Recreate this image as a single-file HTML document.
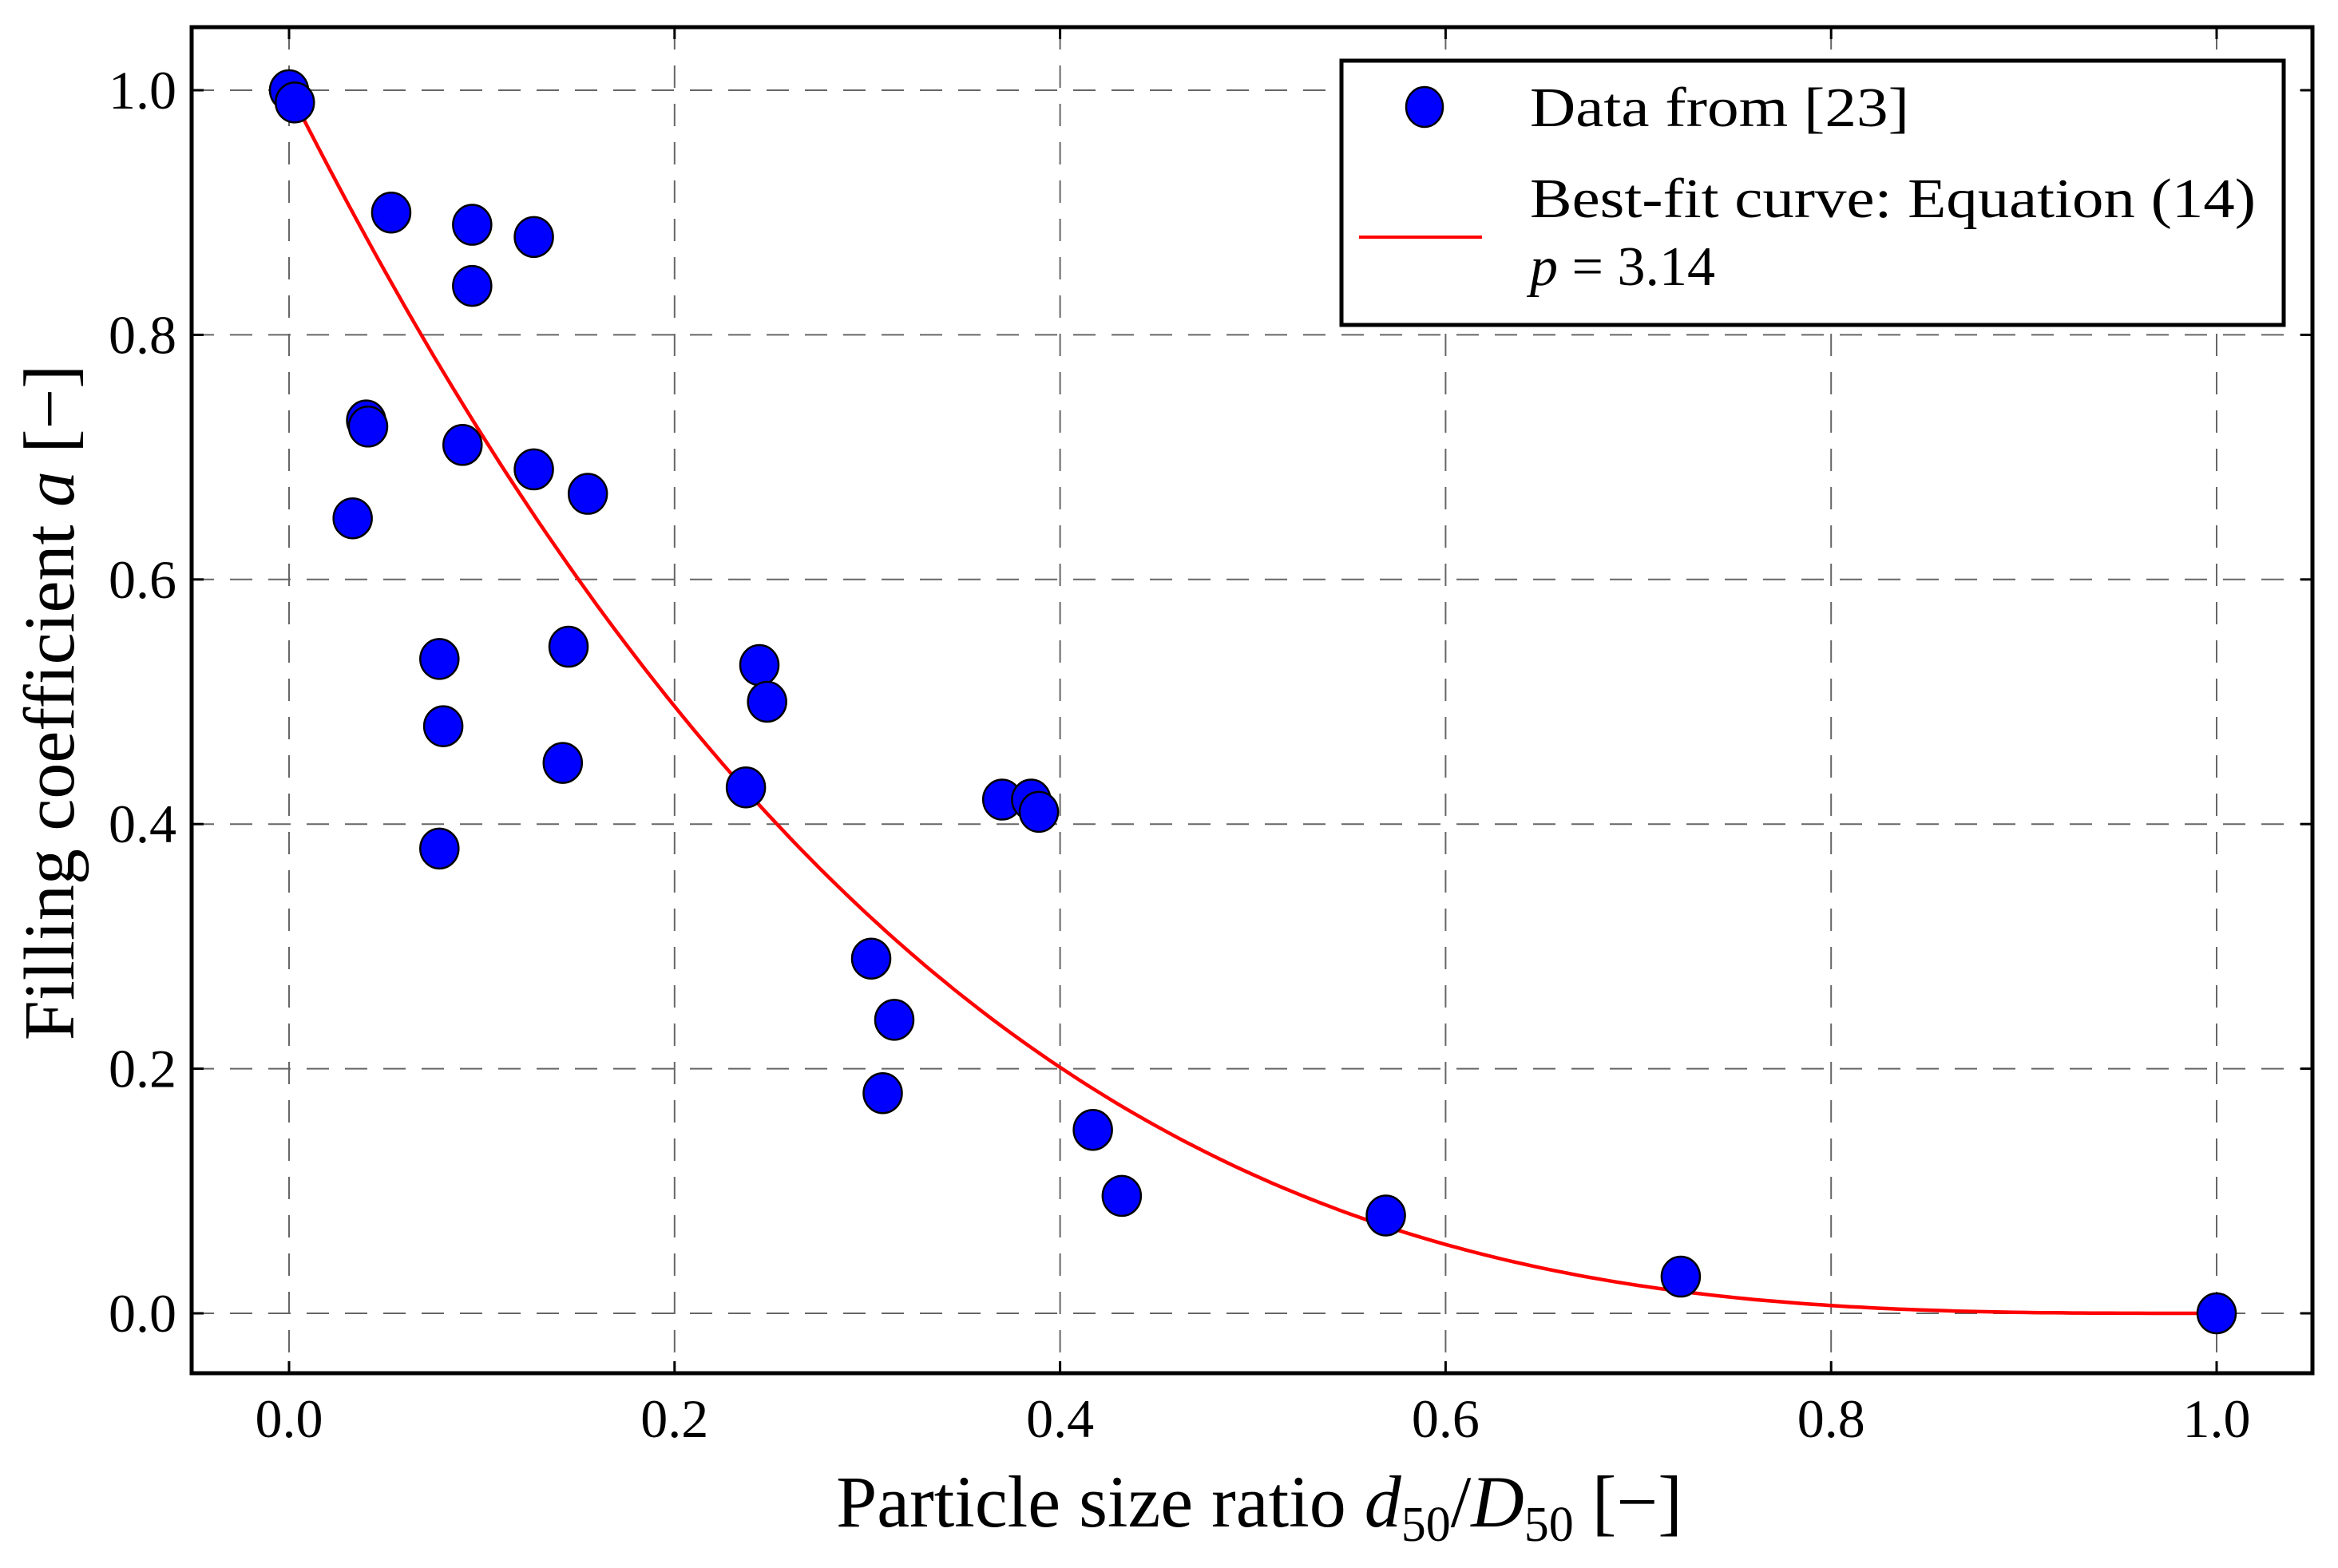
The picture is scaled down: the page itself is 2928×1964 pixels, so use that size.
<!DOCTYPE html>
<html><head><meta charset="utf-8"><style>
html,body{margin:0;padding:0;background:#fff;}
svg{display:block;font-family:"Liberation Serif",serif;}
</style></head><body>
<svg id="chart" width="2928" height="1964" viewBox="0 0 2928 1964" xmlns="http://www.w3.org/2000/svg">
<rect x="0" y="0" width="2928" height="1964" fill="#fff"/>
<g id="grid"></g>
<g id="ticks"></g>
<g id="curve"></g>
<g id="points"></g>
<rect x="240" y="34" width="2656" height="1686" fill="none" stroke="#000" stroke-width="5"/>
<text x="1577" y="1912" font-size="92" text-anchor="middle">Particle size ratio <tspan font-style="italic">d</tspan><tspan font-size="62" dy="18">50</tspan><tspan dy="-18">/</tspan><tspan font-style="italic">D</tspan><tspan font-size="62" dy="18">50</tspan><tspan dy="-18"> [−]</tspan></text>
<text transform="translate(92,880) rotate(-90)" font-size="90" text-anchor="middle">Filling coefficient <tspan font-style="italic">a</tspan> [−]</text>
<g transform="translate(-10,0)">
<rect x="1690" y="76" width="1180" height="331" fill="#fff" stroke="#000" stroke-width="5"/>
<ellipse cx="1794" cy="134" rx="23" ry="25" fill="#0000ff" stroke="#000" stroke-width="2.5"/>
<text x="1926" y="158" font-size="70" textLength="475" lengthAdjust="spacingAndGlyphs">Data from [23]</text>
<line x1="1712" y1="297" x2="1866" y2="297" stroke="#ff0000" stroke-width="4"/>
<text x="1926" y="272" font-size="70" textLength="909" lengthAdjust="spacingAndGlyphs">Best-fit curve: Equation (14)</text>
<text x="1926" y="357" font-size="70"><tspan font-style="italic">p</tspan> = 3.14</text>
</g>
</svg>
<script>
const xs = [0.0,0.003,0.053,0.095,0.127,0.095,0.040,0.041,0.090,0.127,0.155,0.033,0.078,0.145,0.080,0.244,0.248,0.142,0.237,0.078,0.370,0.385,0.389,0.302,0.314,0.308,0.417,0.432,0.569,0.722,1.0];
const ys = [1.0,0.99,0.90,0.89,0.88,0.84,0.73,0.725,0.71,0.69,0.67,0.65,0.535,0.545,0.48,0.53,0.50,0.45,0.43,0.38,0.42,0.42,0.41,0.29,0.24,0.18,0.15,0.096,0.08,0.03,0.0];
const pFit = [3.14];
const xTicks = ["0.0","0.2","0.4","0.6","0.8","1.0"];
const yTicks = ["0.0","0.2","0.4","0.6","0.8","1.0"];
const NS="http://www.w3.org/2000/svg";
const L=240,R=2896,T=34,B=1720;
function sx(v){return 362+v*(2776-362);}
function sy(v){return 1645-v*(1645-113);}
function mk(tag,attrs,parent){const e=document.createElementNS(NS,tag);for(const k in attrs)e.setAttribute(k,attrs[k]);parent.appendChild(e);return e;}
const grid=document.getElementById('grid'),ticks=document.getElementById('ticks');
xTicks.forEach(t=>{const x=sx(parseFloat(t));
 const g=mk('line',{x1:x,y1:T,x2:x,y2:B,stroke:'#666','stroke-width':2,'stroke-dasharray':'28,20'},grid);
 
 
 [[B,B-15],[T,T+15]].forEach(p=>{const k=mk('line',{x1:x,y1:p[0],x2:x,y2:p[1],stroke:'#000','stroke-width':3},ticks);
 
 });
 const tx=mk('text',{x:x,y:1800,'font-size':68,'text-anchor':'middle'},ticks);tx.textContent=t;
 
 
});
yTicks.forEach(t=>{const y=sy(parseFloat(t));
 const g=mk('line',{x1:L,y1:y,x2:R,y2:y,stroke:'#666','stroke-width':2,'stroke-dasharray':'28,20'},grid);
 
 
 [[L,L+15],[R,R-15]].forEach(p=>{const k=mk('line',{x1:p[0],y1:y,x2:p[1],y2:y,stroke:'#000','stroke-width':3},ticks);
 
 });
 const tx=mk('text',{x:221,y:y+23,'font-size':68,'text-anchor':'end'},ticks);tx.textContent=t;
 
 
});
let d='';for(let i=0;i<=200;i++){const x=i/200;const y=Math.pow(1-x,pFit[0]);d+=(i?'L':'M')+sx(x).toFixed(1)+','+sy(y).toFixed(1);}
const c=mk('path',{d:d,fill:'none',stroke:'#ff0000','stroke-width':4.5},document.getElementById('curve'));


const pts=document.getElementById('points');
xs.forEach((x,i)=>{const e=mk('ellipse',{cx:sx(x),cy:sy(ys[i]),rx:24,ry:25,fill:'#0000ff',stroke:'#000','stroke-width':2.5},pts);
 
 });
</script>
</body></html>
